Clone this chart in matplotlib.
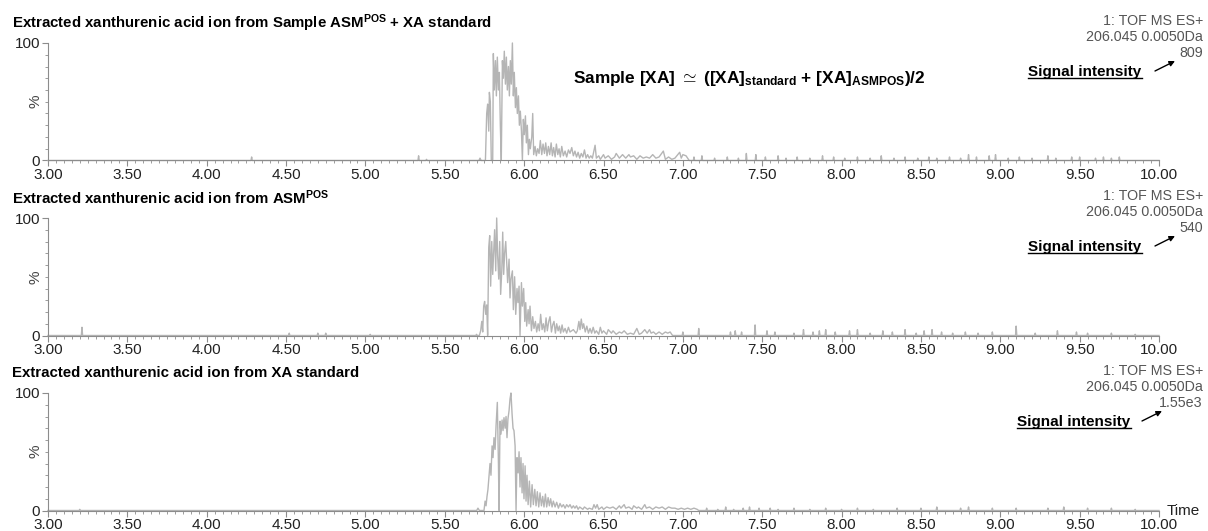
import numpy as np
import matplotlib
matplotlib.use("Agg")
import matplotlib.pyplot as plt
from matplotlib.lines import Line2D
from matplotlib.ticker import MultipleLocator, FixedLocator

plt.rcParams['font.family'] = ['Liberation Sans', 'DejaVu Sans']
plt.rcParams['mathtext.fontset'] = 'custom'
plt.rcParams['mathtext.rm'] = 'Liberation Sans'
plt.rcParams['mathtext.bf'] = 'Liberation Sans:bold'
plt.rcParams['mathtext.it'] = 'Liberation Sans:italic'

# --- Data (time in min, % of max) ---
titles = [
    r"Extracted xanthurenic acid ion from Sample ASM$^{\mathbf{POS}}$ + XA standard",
    r"Extracted xanthurenic acid ion from ASM$^{\mathbf{POS}}$",
    "Extracted xanthurenic acid ion from XA standard",
]
intensities = ["809", "540", "1.55e3"]
instrument = "1: TOF MS ES+"
mass_window = "206.045 0.0050Da"

x_ticks = [3.0, 3.5, 4.0, 4.5, 5.0, 5.5, 6.0, 6.5, 7.0, 7.5, 8.0, 8.5, 9.0, 9.5, 10.0]

# panel 1: sample + standard
p1_peak_t = [5.715, 5.722, 5.729, 5.739, 5.756, 5.764, 5.770, 5.777, 5.781, 5.787, 5.793, 5.802,
             5.806, 5.812,
             5.819, 5.825, 5.831, 5.838, 5.844, 5.850, 5.856, 5.863, 5.869, 5.875, 5.882, 5.888,
             5.894, 5.901, 5.907, 5.913, 5.919, 5.926, 5.932, 5.938, 5.945, 5.951, 5.957, 5.964,
             5.970, 5.976, 5.983, 5.989, 5.995, 6.001, 6.008, 6.014, 6.020, 6.027, 6.033, 6.039,
             6.048, 6.054, 6.060, 6.069, 6.077, 6.085, 6.094, 6.102, 6.111, 6.119, 6.128, 6.136,
             6.144, 6.153, 6.161, 6.170, 6.178, 6.186, 6.195, 6.203, 6.212, 6.220, 6.228, 6.237,
             6.247, 6.258, 6.268, 6.279, 6.289, 6.300, 6.31, 6.32, 6.33, 6.34, 6.35, 6.36, 6.37,
             6.38, 6.39, 6.40, 6.41, 6.42, 6.43, 6.447, 6.455, 6.47, 6.48, 6.50, 6.51, 6.53, 6.55,
             6.57, 6.58, 6.60, 6.62, 6.64, 6.66, 6.67, 6.69, 6.71, 6.73, 6.75, 6.77, 6.79, 6.81,
             6.83, 6.85, 6.877, 6.89, 6.91, 6.93, 6.95, 6.98, 6.99, 7.00, 7.02, 7.04]
p1_peak_pct = [0, 2, 0, 0, 0, 40, 48, 25, 58, 50, 0, 0,
               91, 60,
               85, 55, 88, 60, 75, 30, 0, 85, 70, 93, 65, 88,
               60, 80, 55, 85, 65, 100, 55, 75, 45, 62, 40, 55,
               30, 42, 25, 0, 35, 22, 38, 15, 30, 5, 18, 10,
               20, 40, 5, 12, 4, 10, 6, 17, 5, 14, 6, 15,
               4, 12, 5, 15, 4, 11, 3, 14, 5, 10, 3, 12,
               4, 8, 3, 9, 6, 11, 4, 8, 3, 7, 2, 6, 3,
               9, 2, 5, 2, 4, 2, 13, 2, 4, 1, 5, 2, 4, 1,
               3, 6, 2, 5, 2, 5, 3, 4, 1, 4, 2, 3, 2, 5,
               2, 3, 8, 1, 3, 1, 2, 7, 2, 5, 4, 0]
p1_spike_t = [4.283, 5.335, 5.385, 7.07, 7.12, 7.20, 7.28, 7.35, 7.40, 7.46, 7.52, 7.60, 7.65,
              7.72, 7.80, 7.88, 7.95, 8.02, 8.10, 8.18, 8.25, 8.33, 8.40, 8.48, 8.55, 8.60, 8.68,
              8.75, 8.80, 8.85, 8.93, 8.97, 9.05, 9.12, 9.20, 9.30, 9.35, 9.45, 9.50, 9.60, 9.65,
              9.70, 9.75]
p1_spike_pct = [3, 4, 1, 3, 4, 2, 3, 2, 6, 5, 3, 4, 2,
                3, 2, 4, 3, 2, 3, 2, 4, 2, 3, 2, 3, 2, 3,
                2, 5, 3, 4, 5, 2, 3, 2, 4, 2, 3, 3, 2, 3,
                2, 3]

# panel 2: ASM positive sample
p2_peak_t = [5.718, 5.726, 5.733, 5.739, 5.745, 5.751, 5.758, 5.764, 5.770, 5.777, 5.783, 5.789,
             5.796, 5.802, 5.808, 5.814, 5.821, 5.827, 5.833, 5.840, 5.846, 5.852, 5.859, 5.865,
             5.871, 5.877, 5.884, 5.890, 5.896, 5.905, 5.911, 5.917, 5.926, 5.932, 5.940, 5.947,
             5.955, 5.961, 5.968, 5.974, 5.983, 5.989, 5.997, 6.004, 6.010, 6.016, 6.025, 6.031,
             6.037, 6.046, 6.054, 6.062, 6.071, 6.079, 6.088, 6.096, 6.104, 6.113, 6.121, 6.130,
             6.138, 6.146, 6.155, 6.163, 6.172, 6.180, 6.188, 6.197, 6.205, 6.214, 6.222, 6.230,
             6.239, 6.247, 6.258, 6.268, 6.279, 6.289, 6.310, 6.327, 6.335, 6.345, 6.352, 6.36,
             6.368, 6.375, 6.385, 6.395, 6.405, 6.415, 6.425, 6.435, 6.445, 6.455, 6.47, 6.48,
             6.49, 6.50, 6.52, 6.53, 6.55, 6.56, 6.58, 6.60, 6.615, 6.63, 6.65, 6.67, 6.69, 6.71,
             6.725, 6.74, 6.76, 6.775, 6.79, 6.80, 6.815, 6.83, 6.85, 6.87, 6.89, 6.905, 6.92, 6.935]
p2_peak_pct = [0, 4, 12, 3, 25, 29, 18, 26, 0, 75, 85, 42,
               80, 52, 72, 90, 55, 100, 68, 48, 80, 35, 55, 88,
               52, 70, 80, 62, 45, 65, 32, 48, 55, 22, 50, 18,
               40, 28, 42, 0, 45, 25, 40, 12, 28, 8, 22, 10,
               25, 4, 16, 6, 12, 3, 10, 4, 18, 5, 10, 3,
               15, 4, 12, 16, 3, 9, 12, 2, 10, 4, 8, 2,
               9, 3, 6, 2, 7, 3, 5, 2, 4, 12, 5, 14,
               6, 10, 3, 8, 2, 6, 2, 7, 2, 4, 1, 7,
               2, 4, 1, 5, 2, 4, 1, 3, 2, 4, 1, 2, 1, 6,
               1, 2, 5, 2, 5, 2, 3, 1, 3, 1, 3, 2, 3, 0]
p2_spike_t = [3.214, 4.52, 4.70, 4.75, 5.03, 5.70, 7.00, 7.10, 7.30, 7.33, 7.37, 7.455, 7.53,
              7.58, 7.70, 7.76, 7.82, 7.86, 7.90, 7.96, 8.05, 8.10, 8.18, 8.26, 8.32, 8.40, 8.47,
              8.52, 8.57, 8.63, 8.70, 8.78, 8.86, 8.95, 9.10, 9.22, 9.36, 9.48, 9.55, 9.70, 9.85]
p2_spike_pct = [7, 2, 2, 2, 1, 1, 3, 6, 3, 4, 3, 9, 4,
                3, 2, 5, 3, 4, 5, 3, 4, 5, 2, 4, 3, 5, 2,
                4, 5, 3, 2, 3, 2, 3, 8, 2, 4, 3, 2, 2, 1]

# panel 3: XA standard
p3_peak_t = [5.701, 5.709, 5.718, 5.747, 5.754, 5.760, 5.766, 5.772, 5.779, 5.785, 5.791, 5.798,
             5.804, 5.810, 5.817, 5.823, 5.831, 5.838, 5.842, 5.848, 5.854, 5.861, 5.867, 5.873,
             5.880, 5.886, 5.892, 5.898, 5.905, 5.911, 5.917, 5.924, 5.930, 5.936, 5.943, 5.949,
             5.955, 5.962, 5.968, 5.974, 5.980, 5.987, 5.993, 5.999, 6.006, 6.012, 6.018, 6.025,
             6.033, 6.041, 6.050, 6.058, 6.067, 6.075, 6.083, 6.092, 6.100, 6.109, 6.117, 6.125,
             6.134, 6.142, 6.151, 6.159, 6.167, 6.176, 6.184, 6.195, 6.205, 6.216, 6.226, 6.237,
             6.247, 6.258, 6.268, 6.279, 6.289, 6.300, 6.310, 6.32, 6.33, 6.34, 6.35, 6.37, 6.38,
             6.40, 6.41, 6.43, 6.44, 6.45, 6.46, 6.47, 6.49, 6.50, 6.52, 6.54, 6.56, 6.58, 6.60,
             6.61, 6.63, 6.64, 6.66, 6.68, 6.69, 6.71, 6.72, 6.74, 6.76, 6.77, 6.79, 6.81, 6.83,
             6.85, 6.87, 6.89, 6.91, 6.93, 6.95, 6.97, 6.99, 7.01, 7.03, 7.05, 7.07, 7.09, 7.10]
p3_peak_pct = [0, 2, 0, 0, 8, 4, 12, 18, 30, 40, 30, 55,
               45, 62, 52, 72, 92, 40, 0, 76, 65, 77, 68, 79,
               70, 80, 62, 78, 85, 95, 100, 82, 70, 68, 55, 0,
               45, 32, 50, 20, 45, 15, 40, 10, 38, 8, 30, 5,
               25, 3, 22, 5, 18, 4, 16, 3, 15, 4, 12, 3,
               14, 3, 11, 4, 10, 3, 8, 3, 7, 2, 6, 3,
               5, 2, 5, 3, 5, 2, 4, 2, 4, 1, 3, 1, 3,
               1, 2, 1, 5, 2, 5, 1, 3, 1, 3, 2, 3, 1, 4,
               2, 5, 2, 3, 1, 4, 2, 3, 1, 5, 2, 3, 1, 3,
               2, 3, 1, 3, 2, 2, 1, 2, 1, 2, 1, 2, 1, 0]
p3_spike_t = [3.20, 7.15, 7.22, 7.27, 7.32, 7.38, 7.42, 7.48, 7.55, 7.60, 7.70, 7.80, 7.90, 8.00,
              8.10, 8.20, 8.35, 8.50, 8.60, 8.75, 8.80, 8.95, 9.10, 9.30, 9.40, 9.55, 9.70, 9.85]
p3_spike_pct = [1, 2, 1, 3, 1, 2, 3, 2, 2, 1, 2, 1, 2, 1,
                2, 1, 2, 2, 3, 2, 3, 2, 2, 2, 3, 2, 2, 1]


def build_trace(peak_t, peak_pct, spike_t, spike_pct):
    # baseline from 3 to 10 min with narrow spikes and the dense peak region
    t = [3.0, 10.0]
    y = [0.0, 0.0]
    for st, sp in zip(spike_t, spike_pct):
        t += [st - 0.004, st, st + 0.004]
        y += [0, sp, 0]
    t += list(peak_t)
    y += list(peak_pct)
    order = np.argsort(t, kind='stable')
    return np.array(t)[order], np.array(y)[order]


traces = [
    build_trace(p1_peak_t, p1_peak_pct, p1_spike_t, p1_spike_pct),
    build_trace(p2_peak_t, p2_peak_pct, p2_spike_t, p2_spike_pct),
    build_trace(p3_peak_t, p3_peak_pct, p3_spike_t, p3_spike_pct),
]

# --- Layout (pixel positions of the original) ---
W, H = 1208, 531
fig = plt.figure(figsize=(W / 100, H / 100), dpi=100)


def fx(px):
    return px / W


def fy(py):
    return 1 - py / H


panel_tops = [43, 218, 393]
panel_h = 117.5
ax_left, ax_right = 48, 1159
sig_x = [1085, 1085, 1074]
arrow_tail_x = [1155, 1155, 1142]

axis_grey = '#8c8c8c'
trace_grey = '#b5b5b5'
label_dark = '#222222'

sig_texts = []
for i, (t, pct) in enumerate(traces):
    top = panel_tops[i]
    ax = fig.add_axes([fx(ax_left), fy(top + panel_h), fx(ax_right - ax_left), panel_h / H])
    ax.plot(t, pct, color=trace_grey, lw=1.0, clip_on=False)
    ax.set_xlim(3, 10)
    ax.set_ylim(0, 100)

    for side in ['top', 'right']:
        ax.spines[side].set_visible(False)
    for side in ['left', 'bottom']:
        ax.spines[side].set_color(axis_grey)
        ax.spines[side].set_linewidth(0.8)

    ax.xaxis.set_major_locator(FixedLocator(x_ticks))
    ax.xaxis.set_minor_locator(MultipleLocator(0.05))
    ax.set_xticklabels([f"{v:.2f}" for v in x_ticks])
    ax.yaxis.set_major_locator(FixedLocator([0, 100]))
    ax.yaxis.set_minor_locator(MultipleLocator(10))
    ax.set_yticklabels(['0', '100'])
    ax.tick_params(which='major', length=4, width=0.8, color=axis_grey,
                   labelsize=11, labelcolor=label_dark, pad=1.5)
    ax.tick_params(which='minor', length=2, width=0.6, color=axis_grey)

    ax.set_ylabel('%', fontsize=11, color='#444444')
    ax.yaxis.set_label_coords(-0.0054, 0.5)

    # panel title and instrument info
    fig.text(fx(12), fy(top - 20), titles[i], fontsize=10.8, fontweight='bold',
             color='black', ha='left', va='center')
    fig.text(fx(1203), fy(top - 22), instrument, fontsize=10.3, color='#555555',
             ha='right', va='center')
    fig.text(fx(1203), fy(top - 6), mass_window, fontsize=10.3, color='#555555',
             ha='right', va='center')
    fig.text(fx(1203), fy(top + 10), intensities[i], fontsize=10.3, color='#555555',
             ha='right', va='center')

    st = fig.text(fx(sig_x[i]), fy(top + 29), 'Signal intensity', fontsize=11,
                  fontweight='bold', color='black', ha='center', va='center')
    sig_texts.append(st)
    ax.annotate('', xy=(fx(arrow_tail_x[i] + 20), fy(top + 18)),
                xytext=(fx(arrow_tail_x[i]), fy(top + 28)),
                xycoords='figure fraction', textcoords='figure fraction',
                arrowprops=dict(arrowstyle='-|>', color='black', lw=1.0,
                                mutation_scale=8, shrinkA=0, shrinkB=0),
                annotation_clip=False)

fig.text(fx(573), fy(78),
         r"Sample [XA] $\simeq$ ([XA]$_{\mathbf{standard}}$ + [XA]$_{\mathbf{ASMPOS}}$)/2",
         fontsize=12.4, fontweight='bold', color='black', ha='left', va='center')
fig.text(fx(1167), fy(511), 'Time', fontsize=11, color=label_dark,
         ha='left', va='center')

# underline the "Signal intensity" labels
fig.canvas.draw()
renderer = fig.canvas.get_renderer()
for st in sig_texts:
    bb = st.get_window_extent(renderer).transformed(fig.transFigure.inverted())
    fig.add_artist(Line2D([bb.x0, bb.x1], [bb.y0 + 0.002, bb.y0 + 0.002],
                          transform=fig.transFigure, color='black', lw=1.0))

fig.savefig('out.png', dpi=100)
plt.close(fig)
